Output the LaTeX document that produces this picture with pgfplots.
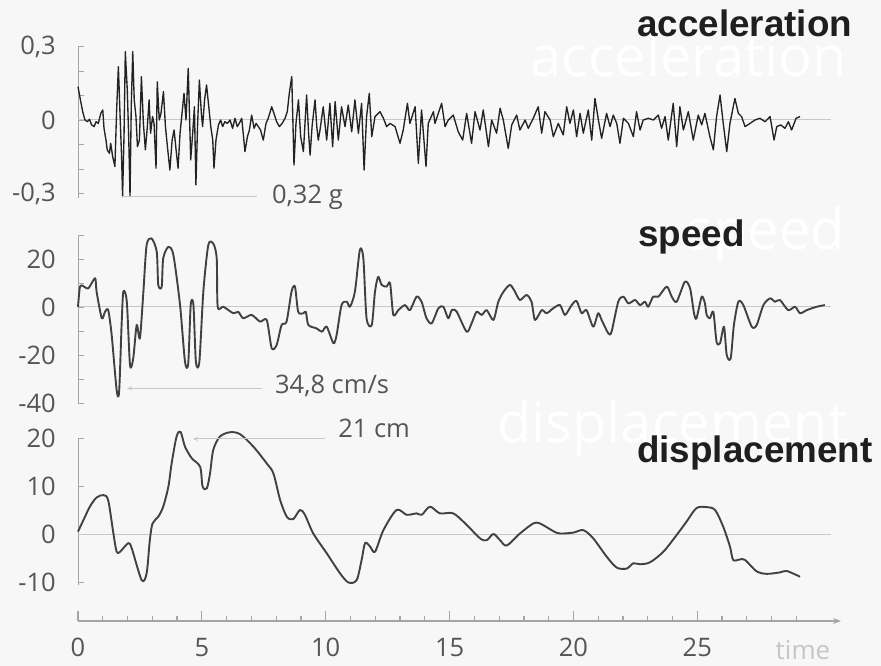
\documentclass[border=0pt]{standalone}
\usepackage{pgfplots}
\pgfplotsset{compat=1.18}
\usepackage{fontspec}
\setmainfont{Open Sans}
\newfontfamily\arial{Liberation Sans}
\usetikzlibrary{arrows.meta}
\definecolor{bg}{RGB}{247,247,247}
\definecolor{tickc}{RGB}{85,85,85}
\definecolor{axl}{RGB}{165,165,165}
\definecolor{zl}{RGB}{200,200,200}
\definecolor{curve}{RGB}{65,65,65}
\definecolor{acc}{RGB}{35,35,35}
\newcommand{\tfont}{\fontsize{25.5}{27}\selectfont}

\pgfplotstableread{
t v
0.00 0.136
0.11 0.075
0.19 0.034
0.28 0.000
0.38 -0.007
0.46 0.003
0.55 -0.020
0.65 -0.027
0.73 -0.007
0.82 -0.014
0.92 0.027
1.00 0.041
1.05 -0.034
1.13 -0.082
1.18 -0.122
1.27 -0.136
1.32 -0.095
1.40 -0.150
1.49 -0.190
1.56 0.041
1.63 0.218
1.70 0.014
1.76 -0.150
1.80 -0.313
1.86 -0.054
1.91 0.279
1.99 0.122
2.05 -0.082
2.10 -0.313
2.15 0.054
2.21 0.279
2.27 0.082
2.34 0.014
2.40 -0.109
2.48 -0.082
2.56 0.177
2.64 -0.014
2.72 -0.122
2.80 -0.027
2.87 0.082
2.93 -0.054
3.01 0.014
3.07 -0.014
3.15 -0.197
3.20 0.156
3.28 0.000
3.35 0.027
3.45 0.116
3.53 -0.027
3.61 -0.109
3.71 -0.204
3.80 -0.082
3.88 -0.041
3.96 -0.122
4.04 -0.197
4.12 -0.054
4.20 0.027
4.28 0.109
4.36 0.000
4.45 0.211
4.55 -0.163
4.63 -0.054
4.70 0.054
4.76 -0.265
4.83 -0.014
4.90 0.163
4.98 0.027
5.03 -0.027
5.11 0.082
5.19 0.143
5.28 0.054
5.36 -0.027
5.44 -0.082
5.49 -0.197
5.57 -0.082
5.67 -0.020
5.76 0.000
5.84 -0.027
5.93 -0.007
6.03 -0.014
6.14 0.000
6.24 -0.034
6.34 0.007
6.43 -0.027
6.51 -0.014
6.61 0.007
6.67 -0.054
6.74 -0.129
6.84 -0.068
6.92 -0.041
7.01 0.020
7.11 -0.034
7.19 -0.014
7.28 -0.027
7.37 -0.041
7.48 -0.082
7.59 -0.014
7.68 0.007
7.82 0.054
7.91 0.027
8.02 -0.007
8.13 -0.027
8.24 -0.014
8.36 0.007
8.45 0.034
8.53 0.109
8.63 0.177
8.72 -0.184
8.80 -0.014
8.90 0.082
8.99 -0.068
9.10 -0.129
9.18 0.014
9.23 0.102
9.31 -0.054
9.37 -0.143
9.45 -0.027
9.57 0.082
9.64 -0.027
9.70 -0.082
9.77 -0.041
9.90 0.054
10.04 -0.082
10.17 0.068
10.28 -0.109
10.38 0.075
10.51 -0.082
10.64 0.054
10.78 -0.027
10.91 0.061
11.05 -0.048
11.18 0.082
11.32 -0.054
11.45 0.068
11.55 -0.204
11.65 0.014
11.76 0.109
11.86 -0.068
11.99 0.014
12.19 0.034
12.33 0.007
12.46 -0.027
12.60 -0.014
12.80 -0.027
13.00 -0.095
13.13 -0.041
13.30 0.068
13.40 -0.014
13.61 0.054
13.74 -0.177
13.87 0.041
14.05 -0.190
14.14 -0.014
14.35 0.034
14.41 -0.014
14.68 0.068
14.82 -0.027
14.95 0.000
15.15 0.020
15.35 -0.048
15.53 -0.082
15.69 0.027
15.89 -0.095
16.03 0.034
16.23 -0.041
16.36 0.041
16.57 -0.109
16.70 0.000
16.90 -0.054
17.04 0.048
17.17 0.000
17.37 -0.116
17.51 -0.020
17.71 0.020
17.84 -0.041
18.05 0.000
18.18 -0.034
18.38 0.007
18.58 0.054
18.72 -0.054
18.85 0.034
19.06 0.000
19.19 -0.068
19.39 -0.014
19.59 -0.061
19.73 0.054
19.86 -0.014
20.00 0.041
20.13 -0.068
20.27 0.027
20.40 -0.054
20.60 0.041
20.74 -0.082
20.87 0.088
21.01 0.000
21.14 -0.075
21.34 0.027
21.48 -0.027
21.61 0.020
21.75 -0.014
21.88 -0.095
22.02 0.007
22.22 -0.014
22.42 -0.068
22.55 0.034
22.69 -0.041
22.82 0.000
23.03 0.007
23.23 0.000
23.43 0.020
23.56 -0.034
23.70 0.014
23.83 -0.082
24.03 0.068
24.17 -0.109
24.30 0.054
24.44 -0.041
24.64 0.034
24.84 -0.082
25.04 0.020
25.18 -0.020
25.31 0.027
25.51 -0.068
25.65 -0.122
25.78 0.014
25.92 0.102
26.05 -0.014
26.19 -0.129
26.32 -0.014
26.52 0.088
26.66 0.027
26.79 0.014
26.93 -0.027
27.13 -0.014
27.33 0.000
27.53 0.007
27.74 -0.007
27.94 0.014
28.10 -0.082
28.21 -0.027
28.37 -0.020
28.54 -0.034
28.68 -0.007
28.81 -0.041
28.99 0.007
29.15 0.014
}\acctable

\pgfplotstableread{
t v
0.00 0.0
0.08 8.5
0.21 8.7
0.42 7.8
0.69 12.0
0.75 6.4
0.96 -4.7
1.09 -2.0
1.22 -1.3
1.36 -11.7
1.56 -34.6
1.66 -35.3
1.76 -7.5
1.83 6.4
1.97 2.2
2.10 -24.2
2.23 -21.4
2.37 -7.5
2.50 -13.0
2.64 6.4
2.77 25.8
2.97 28.6
3.18 23.0
3.24 9.2
3.38 8.5
3.44 20.3
3.65 25.1
3.85 21.7
4.12 0.8
4.32 -22.8
4.45 -23.5
4.55 0.8
4.66 0.8
4.76 -22.8
4.90 -22.8
5.06 6.4
5.26 25.8
5.46 26.5
5.60 20.3
5.64 0.1
5.87 0.1
6.27 -2.6
6.47 -2.0
6.67 -4.7
7.01 -3.3
7.35 -6.1
7.62 -5.4
7.82 -17.2
8.02 -15.8
8.22 -7.5
8.42 -6.1
8.62 6.4
8.76 8.5
8.89 -2.0
9.10 -2.6
9.20 -2.0
9.30 -7.5
9.63 -8.9
9.85 -10.3
10.04 -8.2
10.31 -15.1
10.44 -11.7
10.64 0.8
10.85 2.2
10.98 0.1
11.18 6.4
11.38 23.8
11.52 20.3
11.65 -4.7
11.86 -7.5
11.99 6.4
12.12 12.6
12.26 9.2
12.46 8.5
12.60 9.9
12.73 -3.3
12.93 -1.3
13.20 0.8
13.40 -1.3
13.67 4.3
13.87 2.2
14.07 -4.7
14.28 -6.8
14.55 -0.5
14.75 0.1
14.95 -4.7
15.09 -1.3
15.29 -2.0
15.69 -10.3
15.89 -6.8
16.09 -2.0
16.30 -3.3
16.50 -1.3
16.77 -5.4
16.97 2.2
17.18 6.4
17.44 9.2
17.64 6.4
17.84 2.9
18.11 5.0
18.31 2.2
18.45 -5.4
18.72 -1.3
18.92 -2.6
19.19 -0.5
19.46 0.8
19.66 -3.3
19.93 0.8
20.13 2.5
20.33 -2.6
20.53 -1.3
20.80 -8.2
21.00 -2.6
21.14 -5.4
21.41 -11.0
21.54 -10.3
21.81 2.2
22.02 4.3
22.22 1.5
22.49 2.9
22.69 0.8
22.89 2.2
23.02 0.1
23.22 4.3
23.43 4.3
23.77 8.5
23.97 4.3
24.17 2.2
24.50 10.5
24.71 7.8
24.87 -2.6
24.97 -4.7
25.18 4.3
25.31 1.5
25.38 -3.3
25.51 -4.7
25.65 -2.0
25.78 -14.5
25.92 -15.1
26.08 -8.2
26.19 -20.0
26.35 -21.4
26.48 -7.5
26.66 2.2
26.86 0.8
27.20 -8.2
27.40 -7.5
27.67 0.8
27.94 3.6
28.14 2.2
28.34 2.9
28.67 -1.3
28.95 0.1
29.15 -2.6
29.42 -1.3
29.82 0.1
30.15 0.8
}\spdtable

\pgfplotstableread{
t v
0.00 0.5
0.22 2.9
0.48 5.7
0.75 7.6
1.03 8.1
1.22 7.0
1.43 0.1
1.56 -3.7
1.70 -3.7
2.03 -1.9
2.17 -3.0
2.57 -9.6
2.77 -8.2
2.90 -1.3
3.01 2.2
3.24 3.6
3.44 5.7
3.65 9.9
3.78 14.7
3.98 20.3
4.14 21.3
4.32 18.2
4.59 15.8
4.93 14.0
5.03 9.9
5.20 9.5
5.33 12.6
5.46 17.5
5.73 20.3
6.14 21.2
6.54 20.8
7.08 18.2
7.62 14.7
7.89 12.6
8.16 7.1
8.43 3.6
8.69 3.1
8.96 5.0
9.16 4.0
9.50 0.1
10.04 -4.0
10.58 -8.2
10.92 -10.1
11.25 -9.6
11.45 -5.4
11.59 -1.9
11.79 -2.6
11.99 -3.7
12.33 0.8
12.86 5.0
13.27 4.0
13.67 4.3
13.88 4.0
14.21 5.7
14.61 4.3
15.15 4.3
15.69 1.9
16.23 -0.9
16.50 -1.3
16.77 0.0
17.04 -1.3
17.31 -2.4
17.84 0.1
18.38 2.2
18.65 2.2
19.19 0.6
19.46 0.1
20.00 0.3
20.40 0.8
20.80 -0.9
21.34 -4.7
21.75 -7.0
22.15 -7.2
22.42 -6.1
22.69 -6.3
23.09 -5.9
23.63 -3.7
24.17 -0.2
24.57 2.6
24.97 5.4
25.38 5.6
25.72 5.0
26.05 1.5
26.32 -2.6
26.45 -5.4
26.72 -5.3
26.93 -5.4
27.40 -7.8
27.80 -8.3
28.34 -8.0
28.61 -7.7
29.15 -8.9
}\distable

\pgfplotsset{
  panel/.style={
    scale only axis, width=753pt, xmin=0, xmax=30.4,
    axis y line=left, axis x line=none,
    y axis line style={draw=axl, line width=0.9pt, -},
    tick align=inside, major tick length=6pt,
    ytick style={draw=axl, line width=0.9pt},
    xtick=\empty,
    yticklabel style={font=\tfont, text=tickc, anchor=east, inner sep=0pt, xshift=-22pt},
    clip=false, anchor=south west,
  }
}

\begin{document}
\begin{tikzpicture}
\path[use as bounding box, fill=bg] (0pt,0pt) rectangle (881pt,666pt);
% faint ghost titles of the scan
\node[anchor=base east, text=white, font=\fontsize{56}{60}\selectfont, inner sep=0pt] at (847pt,589pt) {acceleration};
\node[anchor=base east, text=white, font=\fontsize{56}{60}\selectfont, inner sep=0pt] at (845pt,416pt) {speed};
\node[anchor=base east, text=white, font=\fontsize{56}{60}\selectfont, inner sep=0pt] at (848pt,223pt) {displacement};

% acceleration
\begin{axis}[panel, at={(78pt,467.6pt)}, height=151.9pt, ymin=-0.32, ymax=0.3,
  ytick={-0.3,-0.2,-0.1,0,0.1,0.2,0.3},
  yticklabels={{-0,3},{},{},0,{},{},{0,3}}]
\addplot[zl, line width=1pt] coordinates {(0,0) (30.4,0)};
\addplot[acc, line width=1.35pt, line join=round] table[x=t,y=v] {\acctable};
\draw[zl, line width=1pt] (axis cs:1.76,-0.313) -- (axis cs:7.21,-0.313);
\node[anchor=base west, inner sep=0pt, text=tickc, font=\tfont] at (axis cs:7.83,-0.339) {0,32 g};
\end{axis}

% speed
\begin{axis}[panel, at={(78pt,261.8pt)}, height=169.2pt, ymin=-40.5, ymax=30,
  ytick={-40,-30,-20,-10,0,10,20,30},
  yticklabels={-40,{},-20,{},0,{},20,{}}]
\addplot[zl, line width=1pt] coordinates {(0,0) (30.4,0)};
\addplot[curve, line width=1.9pt, smooth, tension=0.45, line join=round] table[x=t,y=v] {\spdtable};
\draw[zl, line width=1pt, -{Stealth[length=5pt,width=4pt]}] (axis cs:7.43,-33.9) -- (axis cs:1.98,-33.9);
\node[anchor=base west, inner sep=0pt, text=tickc, font=\tfont] at (axis cs:7.95,-36.0) {34,8 cm/s};
\end{axis}

% displacement
\begin{axis}[panel, at={(78pt,81.1pt)}, height=146.9pt, ymin=-10.6, ymax=20,
  ytick={-10,0,10,20},
  yticklabels={-10,0,10,20}]
\addplot[zl, line width=1pt] coordinates {(0,0) (30.4,0)};
\addplot[curve, line width=1.9pt, smooth, tension=0.5, line join=round] table[x=t,y=v] {\distable};
\draw[zl, line width=1pt, -{Stealth[length=5pt,width=4pt]}] (axis cs:9.97,19.8) -- (axis cs:4.64,19.8);
\node[anchor=base west, inner sep=0pt, text=tickc, font=\tfont] at (axis cs:10.5,20.1) {21 cm};
\end{axis}

% time axis
\begin{axis}[scale only axis, width=763pt, height=10pt, xmin=0, xmax=30.8, ymin=0, ymax=1,
  at={(78pt,45pt)}, anchor=south west,
  axis x line=bottom, axis y line=none,
  x axis line style={draw=axl, line width=1.2pt, -{Stealth[length=8pt,width=6pt]}},
  tick align=inside, major tick length=10pt, minor tick length=5pt,
  xtick={0,5,10,15,20,25}, xticklabels={0,5,10,15,20,25},
  minor xtick={1,2,3,4,6,7,8,9,11,12,13,14,16,17,18,19,21,22,23,24,26,27,28,29},
  xtick style={draw=axl, line width=1.2pt},
  minor tick style={draw=axl, line width=1.2pt},
  xticklabel style={font=\tfont, text=tickc, anchor=north, inner sep=0pt, yshift=-17pt},
  clip=false]
\addplot[draw=none] coordinates {(0,0) (30.8,0)};
\end{axis}
\node[text=gray!45, font=\fontsize{26}{28}\selectfont, inner sep=0pt] at (803pt,16pt) {time};

% bold titles
\node[anchor=base west, inner sep=0pt, text=black!88, font=\arial\bfseries\fontsize{36.8}{40}\selectfont] at (637pt,629pt) {acceleration};
\node[anchor=base west, inner sep=0pt, text=black!88, font=\arial\bfseries\fontsize{36.8}{40}\selectfont] at (638pt,419pt) {speed};
\node[anchor=base west, inner sep=0pt, text=black!88, font=\arial\bfseries\fontsize{36.8}{40}\selectfont] at (637pt,203pt) {displacement};
\end{tikzpicture}
\end{document}
